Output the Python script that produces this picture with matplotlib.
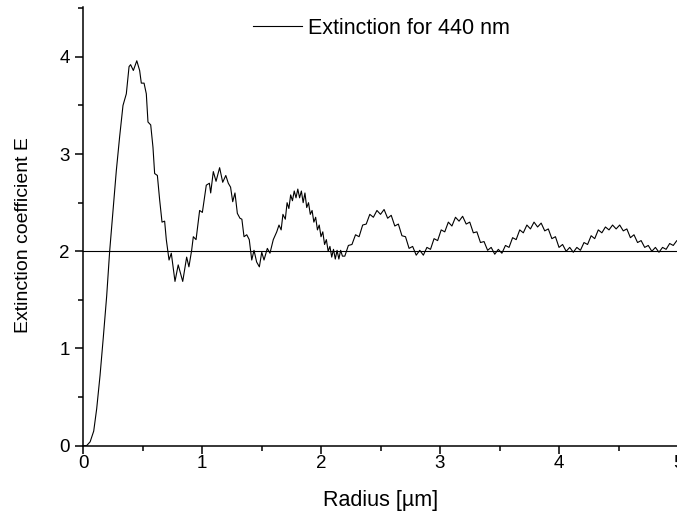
import matplotlib
matplotlib.use("Agg")
import matplotlib.pyplot as plt
from matplotlib.ticker import MultipleLocator

plt.rcParams['font.family'] = ['Liberation Sans', 'DejaVu Sans']

# radius [um] and extinction coefficient
radius = [
    0.00, 0.03, 0.06, 0.09, 0.115, 0.143, 0.171, 0.199, 0.224, 0.252,
    0.280, 0.308, 0.336, 0.364, 0.387, 0.400, 0.423, 0.452, 0.476, 0.490,
    0.513, 0.532, 0.546, 0.569, 0.588, 0.602, 0.625, 0.644, 0.664, 0.686,
    0.700, 0.723, 0.742, 0.773, 0.800, 0.838, 0.871, 0.890, 0.913, 0.927,
    0.950, 0.980, 1.003, 1.036, 1.062, 1.073, 1.095, 1.118, 1.148, 1.174,
    1.200, 1.221, 1.240, 1.258, 1.277, 1.297, 1.319, 1.335, 1.353, 1.376,
    1.397, 1.418, 1.437, 1.459, 1.482, 1.502, 1.521, 1.549, 1.571, 1.599,
    1.628, 1.647, 1.665, 1.680, 1.700, 1.715, 1.730, 1.745, 1.760, 1.775,
    1.790, 1.805, 1.820, 1.835, 1.850, 1.865, 1.880, 1.895, 1.910, 1.925,
    1.940, 1.955, 1.970, 1.985, 2.000, 2.015, 2.030, 2.045, 2.060, 2.075,
    2.090, 2.105, 2.120, 2.135, 2.150, 2.165, 2.180,
    2.20, 2.23, 2.26, 2.29, 2.32, 2.35, 2.38, 2.41, 2.44, 2.47,
    2.50, 2.53, 2.56, 2.59, 2.62, 2.65, 2.68, 2.71, 2.74, 2.77,
    2.80, 2.83, 2.86, 2.89, 2.92, 2.95, 2.98, 3.01, 3.04, 3.07,
    3.10, 3.13, 3.16, 3.19, 3.22, 3.25, 3.28, 3.31, 3.34, 3.37,
    3.40, 3.43, 3.46, 3.49, 3.52, 3.55, 3.58, 3.61, 3.64, 3.67,
    3.70, 3.73, 3.76, 3.79, 3.82, 3.85, 3.88, 3.91, 3.94, 3.97,
    4.00, 4.03, 4.06, 4.09, 4.12, 4.15, 4.18, 4.21, 4.24, 4.27,
    4.30, 4.33, 4.36, 4.39, 4.42, 4.45, 4.48, 4.51, 4.54, 4.57,
    4.60, 4.63, 4.66, 4.69, 4.72, 4.75, 4.78, 4.81, 4.84, 4.87,
    4.90, 4.93, 4.96, 4.99, 5.02,
]
extinction = [
    0.00, 0.00, 0.04, 0.15, 0.38, 0.72, 1.12, 1.54, 2.00, 2.42,
    2.83, 3.18, 3.50, 3.62, 3.90, 3.92, 3.86, 3.96, 3.86, 3.73,
    3.73, 3.62, 3.33, 3.30, 3.07, 2.80, 2.78, 2.53, 2.30, 2.31,
    2.12, 1.91, 1.98, 1.69, 1.86, 1.69, 1.94, 1.84, 2.01, 2.15,
    2.12, 2.42, 2.40, 2.68, 2.70, 2.60, 2.82, 2.72, 2.86, 2.71,
    2.78, 2.70, 2.66, 2.51, 2.60, 2.39, 2.34, 2.33, 2.15, 2.17,
    2.12, 1.91, 2.01, 1.89, 1.84, 1.99, 1.91, 2.03, 1.98, 2.12,
    2.20, 2.27, 2.22, 2.38, 2.33, 2.50, 2.44, 2.58, 2.52, 2.62,
    2.55, 2.64, 2.55, 2.62, 2.50, 2.60, 2.45, 2.50, 2.38, 2.42,
    2.30, 2.35, 2.22, 2.27, 2.15, 2.20, 2.07, 2.12, 2.00, 2.05,
    1.94, 2.02, 1.92, 2.01, 1.92, 2.01, 1.95,
    1.95, 2.06, 2.07, 2.17, 2.15, 2.27, 2.28, 2.38, 2.35, 2.42,
    2.38, 2.43, 2.34, 2.37, 2.26, 2.28, 2.16, 2.15, 2.03, 2.05,
    1.96, 2.01, 1.96, 2.04, 2.02, 2.13, 2.11, 2.22, 2.20, 2.30,
    2.26, 2.35, 2.31, 2.36, 2.28, 2.30, 2.19, 2.20, 2.09, 2.10,
    2.01, 2.04, 1.97, 2.02, 1.98, 2.06, 2.04, 2.14, 2.12, 2.22,
    2.19, 2.27, 2.23, 2.30, 2.25, 2.29, 2.21, 2.23, 2.13, 2.15,
    2.04, 2.07, 2.00, 2.04, 1.99, 2.04, 2.01, 2.09, 2.07, 2.16,
    2.13, 2.22, 2.19, 2.25, 2.22, 2.27, 2.23, 2.27, 2.21, 2.23,
    2.14, 2.17, 2.09, 2.11, 2.04, 2.06, 2.00, 2.04, 1.99, 2.04,
    2.02, 2.08, 2.06, 2.11, 2.10,
]

fig = plt.figure(figsize=(6.77, 5.15), dpi=100)
ax = fig.add_axes([0.1226, 0.1346, 0.8789, 0.8512])

ax.plot(radius, extinction, '-', color='black', lw=0.8,
        label='Extinction for 440 nm')
ax.axhline(2, color='black', lw=0.8)

ax.set_xlim(0, 5)
ax.set_ylim(0, 4.51)
ax.xaxis.set_major_locator(MultipleLocator(1))
ax.xaxis.set_minor_locator(MultipleLocator(0.5))
ax.yaxis.set_major_locator(MultipleLocator(1))
ax.yaxis.set_minor_locator(MultipleLocator(0.5))

for s in ['top', 'right']:
    ax.spines[s].set_visible(False)
for s in ['left', 'bottom']:
    ax.spines[s].set_linewidth(1.1)

ax.tick_params(which='major', length=6, width=1.1, labelsize=13.5)
ax.tick_params(axis='x', which='major', pad=1)
ax.tick_params(axis='y', which='major', pad=3.5)
ax.tick_params(which='minor', length=3.5, width=1.1)

ax.set_xlabel('Radius [µm]', fontsize=15.5)
ax.set_ylabel('Extinction coefficient E', fontsize=14)
ax.xaxis.set_label_coords(0.5, -0.101)
ax.yaxis.set_label_coords(-0.086, 0.48)

ax.legend(loc='center left', bbox_to_anchor=(253 / 677, 1 - 28 / 515),
          bbox_transform=fig.transFigure, frameon=False, fontsize=15.5,
          handlelength=2.27, handletextpad=0.28, borderpad=0,
          borderaxespad=0)

plt.savefig('out.png', dpi=100)
